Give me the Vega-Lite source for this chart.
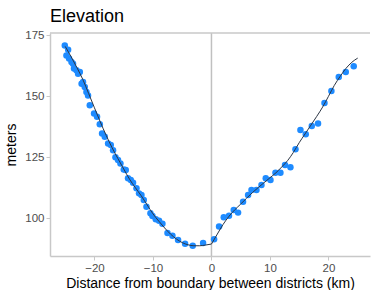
{
  "$schema": "https://vega.github.io/schema/vega-lite/v6.json",
  "width": 320,
  "height": 223,
  "autosize": "none",
  "padding": {"left": 50, "top": 33, "right": 2, "bottom": 34},
  "background": "white",
  "title": {"text": "Elevation", "anchor": "start", "frame": "group", "fontSize": 18, "font": "Liberation Sans", "fontWeight": "normal", "color": "#000000", "offset": 3},
  "config": {
    "view": {"stroke": null},
    "axis": {"grid": false, "domainColor": "#c8c8c8", "domainWidth": 1.5, "tickColor": "#c8c8c8", "tickSize": 4, "tickWidth": 1, "labelFont": "Liberation Sans", "labelFontSize": 11.5, "labelColor": "#4d4d4d", "titleFont": "Liberation Sans", "titleFontSize": 14, "titleFontWeight": "normal", "titleColor": "#000000", "labelPadding": 2}
  },
  "datasets": {
    "pts": [
      {"d": -25.07, "m": 170.9}, {"d": -24.5, "m": 169.1}, {"d": -24.79, "m": 166.8}, {"d": -24.34, "m": 165.5},
      {"d": -23.93, "m": 164.1}, {"d": -23.66, "m": 163.4}, {"d": -23.5, "m": 161.4}, {"d": -23.08, "m": 160.7},
      {"d": -22.8, "m": 159.3}, {"d": -22.5, "m": 160.0}, {"d": -22.2, "m": 155.2}, {"d": -21.95, "m": 155.9},
      {"d": -21.66, "m": 153.8}, {"d": -21.37, "m": 151.8}, {"d": -21.1, "m": 150.4}, {"d": -20.8, "m": 146.4},
      {"d": -20.07, "m": 143.0}, {"d": -19.56, "m": 141.6}, {"d": -19.09, "m": 138.6}, {"d": -18.7, "m": 134.8},
      {"d": -18.24, "m": 133.4}, {"d": -17.67, "m": 130.7}, {"d": -17.21, "m": 130.0}, {"d": -16.82, "m": 127.9},
      {"d": -16.41, "m": 125.0}, {"d": -15.97, "m": 123.9}, {"d": -15.56, "m": 122.5}, {"d": -14.99, "m": 120.0},
      {"d": -14.65, "m": 119.8}, {"d": -14.26, "m": 116.4}, {"d": -13.79, "m": 115.7}, {"d": -13.4, "m": 114.6},
      {"d": -12.82, "m": 112.3}, {"d": -12.38, "m": 110.2}, {"d": -11.97, "m": 109.5}, {"d": -11.57, "m": 107.5},
      {"d": -11.11, "m": 104.7}, {"d": -10.43, "m": 102.0}, {"d": -10.09, "m": 100.9}, {"d": -9.52, "m": 99.6},
      {"d": -8.96, "m": 99.0}, {"d": -8.38, "m": 97.7}, {"d": -7.52, "m": 93.9}, {"d": -6.67, "m": 92.8},
      {"d": -5.71, "m": 91.1}, {"d": -4.51, "m": 89.5}, {"d": -3.2, "m": 88.7}, {"d": -1.43, "m": 89.8},
      {"d": 0.45, "m": 91.4}, {"d": 1.3, "m": 96.6}, {"d": 2.1, "m": 100.4}, {"d": 3.0, "m": 101.0},
      {"d": 3.81, "m": 103.4}, {"d": 4.55, "m": 102.3}, {"d": 5.4, "m": 106.8}, {"d": 6.26, "m": 109.5},
      {"d": 6.84, "m": 111.6}, {"d": 7.69, "m": 111.6}, {"d": 8.55, "m": 113.6}, {"d": 9.28, "m": 116.4},
      {"d": 10.09, "m": 115.7}, {"d": 10.94, "m": 118.7}, {"d": 11.79, "m": 118.7}, {"d": 12.58, "m": 121.8},
      {"d": 13.5, "m": 120.9}, {"d": 14.36, "m": 128.3}, {"d": 15.21, "m": 136.2}, {"d": 16.12, "m": 134.5},
      {"d": 17.15, "m": 137.8}, {"d": 18.22, "m": 138.9}, {"d": 19.32, "m": 147.3}, {"d": 20.5, "m": 152.2},
      {"d": 21.76, "m": 157.9}, {"d": 22.96, "m": 160.0}, {"d": 24.32, "m": 162.4}
    ],
    "fit": [
      {"side": "L", "d": -25, "m": 170.5}, {"side": "L", "d": -24, "m": 166.3}, {"side": "L", "d": -23, "m": 161.8},
      {"side": "L", "d": -22, "m": 157.0}, {"side": "L", "d": -21, "m": 151.2}, {"side": "L", "d": -20, "m": 145.3},
      {"side": "L", "d": -19, "m": 139.5}, {"side": "L", "d": -18, "m": 134.0}, {"side": "L", "d": -17, "m": 129.0},
      {"side": "L", "d": -16, "m": 124.5}, {"side": "L", "d": -15, "m": 120.2}, {"side": "L", "d": -14, "m": 116.0},
      {"side": "L", "d": -13, "m": 112.5}, {"side": "L", "d": -12, "m": 109.2}, {"side": "L", "d": -11, "m": 105.5},
      {"side": "L", "d": -10, "m": 101.8}, {"side": "L", "d": -9, "m": 98.8}, {"side": "L", "d": -8, "m": 96.0},
      {"side": "L", "d": -7, "m": 93.5}, {"side": "L", "d": -6, "m": 91.5}, {"side": "L", "d": -5, "m": 90.0},
      {"side": "L", "d": -4, "m": 89.1}, {"side": "L", "d": -3, "m": 88.7}, {"side": "L", "d": -2, "m": 88.7},
      {"side": "L", "d": -1, "m": 89.0}, {"side": "L", "d": 0, "m": 89.4},
      {"side": "R", "d": 0, "m": 89.4}, {"side": "R", "d": 1, "m": 93.5}, {"side": "R", "d": 2, "m": 97.5},
      {"side": "R", "d": 3, "m": 100.8}, {"side": "R", "d": 4, "m": 103.5}, {"side": "R", "d": 5, "m": 105.8},
      {"side": "R", "d": 6, "m": 108.2}, {"side": "R", "d": 7, "m": 110.5}, {"side": "R", "d": 8, "m": 112.6},
      {"side": "R", "d": 9, "m": 114.6}, {"side": "R", "d": 10, "m": 116.6}, {"side": "R", "d": 11, "m": 118.6},
      {"side": "R", "d": 12, "m": 121.0}, {"side": "R", "d": 13, "m": 123.6}, {"side": "R", "d": 14, "m": 127.0},
      {"side": "R", "d": 15, "m": 131.0}, {"side": "R", "d": 16, "m": 134.6}, {"side": "R", "d": 17, "m": 138.2},
      {"side": "R", "d": 18, "m": 141.8}, {"side": "R", "d": 19, "m": 145.6}, {"side": "R", "d": 20, "m": 150.0},
      {"side": "R", "d": 21, "m": 154.5}, {"side": "R", "d": 22, "m": 158.2}, {"side": "R", "d": 23, "m": 161.5},
      {"side": "R", "d": 24, "m": 164.0}, {"side": "R", "d": 25, "m": 165.7}
    ]
  },
  "layer": [
    {
      "data": {"values": [{}]},
      "mark": {"type": "rule", "color": "#c0c0c0", "strokeWidth": 1.5},
      "encoding": {"x": {"datum": 0, "type": "quantitative"}}
    },
    {
      "data": {"values": [{}]},
      "mark": {"type": "rule", "color": "#c8c8c8", "strokeWidth": 1.5},
      "encoding": {"y": {"datum": 176, "type": "quantitative"}}
    },
    {
      "data": {"name": "pts"},
      "mark": {"type": "circle", "size": 42, "opacity": 1, "color": "#1E8BFF"},
      "encoding": {
        "x": {"field": "d", "type": "quantitative", "scale": {"domain": [-27.6, 27.1], "nice": false, "zero": false},
              "axis": {"title": "Distance from boundary between districts (km)", "values": [-20, -10, 0, 10, 20], "titlePadding": 3}},
        "y": {"field": "m", "type": "quantitative", "scale": {"domain": [84.5, 176], "nice": false, "zero": false},
              "axis": {"title": "meters", "values": [100, 125, 150, 175], "titlePadding": 6}}
      }
    },
    {
      "data": {"name": "fit"},
      "mark": {"type": "line", "color": "#2b3544", "strokeWidth": 1, "interpolate": "monotone"},
      "encoding": {
        "x": {"field": "d", "type": "quantitative"},
        "y": {"field": "m", "type": "quantitative"},
        "detail": {"field": "side"}
      }
    }
  ]
}
